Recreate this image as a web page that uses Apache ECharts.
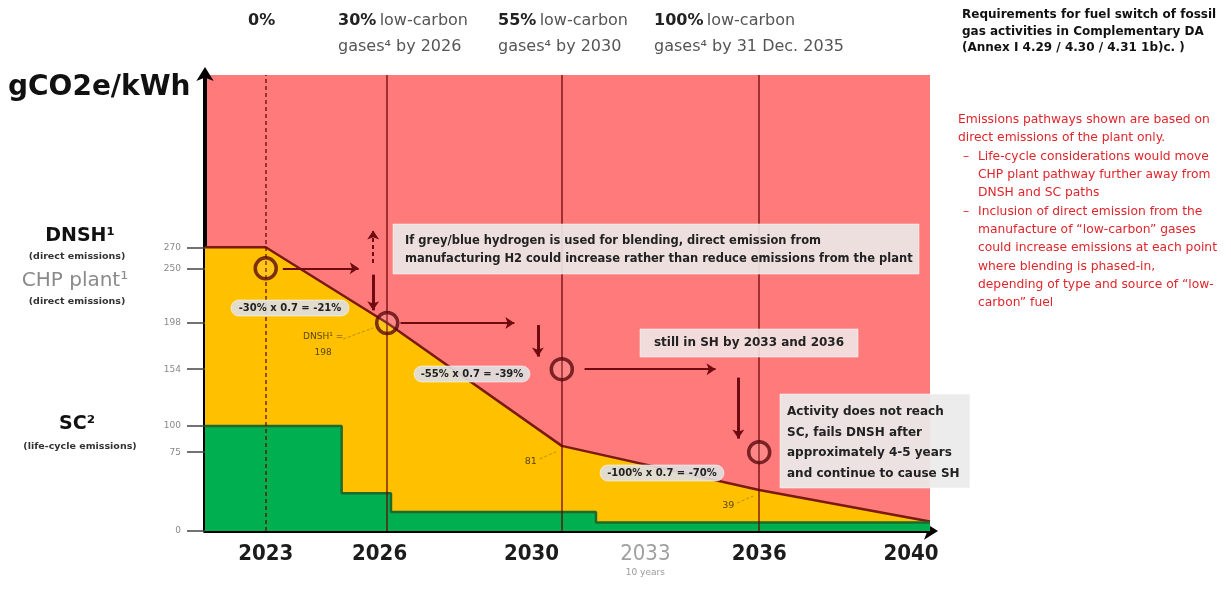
<!DOCTYPE html>
<html><head><meta charset="utf-8">
<script src="https://cdn.jsdelivr.net/npm/echarts@6/dist/echarts.min.js"></script>
<style>html,body{margin:0;padding:0;background:#fff}#c{width:1231px;height:589px}</style>
</head><body><div id="c"></div><script>
// ---------- data ----------
const xTickYears = [2023, 2026, 2030, 2033, 2036, 2040];
const yTickValues = [0, 75, 100, 154, 198, 250, 270];
const dnshYears = [2021.4, 2023, 2026.2, 2030.8, 2036, 2040.5];
const dnshValues = [270, 270, 198, 81, 39, 9];
const scYears = [2021.4, 2025, 2025, 2026.3, 2026.3, 2031.7, 2031.7, 2040.5];
const scValues = [100, 100, 36, 36, 18, 18, 8, 8];
const chpYears = [2023, 2026.2, 2030.8, 2036];
const chpValues = [250, 198, 154, 75];
const milestoneYears = [2023, 2026.2, 2030.8, 2036];
const milestonePct = ['0%', '30%', '55%', '100%'];
const milestoneLine1 = ['', 'low-carbon', 'low-carbon', 'low-carbon'];
const milestoneLine2 = ['', 'gases\u2074 by 2026', 'gases\u2074 by 2030', 'gases\u2074 by 31 Dec. 2035'];
const arrowFrom = [[2023.45, 250], [2025.83, 255], [2025.83, 244], [2026.55, 198], [2030.17, 196], [2031.4, 154], [2035.45, 146]];
const arrowTo   = [[2025.45, 250], [2025.83, 286], [2025.83, 210], [2029.55, 198], [2030.17, 166], [2034.85, 154], [2035.45, 88]];
const arrowDashed = [false, true, false, false, false, false, false];
const arrowVertical = [false, true, true, false, true, false, true];
const dnshPointLabels = {2: ['DNSH\u00b9 =', '198'], 3: ['81'], 4: ['39']};
const reductionLabels = ['-30% x 0.7 = -21%', '-55% x 0.7 = -39%', '-100% x 0.7 = -70%'];
const noteHydrogen = ['If grey/blue hydrogen is used for blending, direct emission from',
  'manufacturing H2 could increase rather than reduce emissions from the plant'];
const noteStill = 'still in SH by 2033 and 2036';
const noteActivity = ['Activity does not reach', 'SC, fails DNSH after', 'approximately 4-5 years', 'and continue to cause SH'];
const headerLines = ['Requirements for fuel switch of fossil', 'gas activities in Complementary DA', '(Annex I 4.29 / 4.30 / 4.31 1b)c. )'];
const redLines = [
  ['', 'Emissions pathways shown are based on'],
  ['', 'direct emissions of the plant only.'],
  ['\u2013', 'Life-cycle considerations would move'],
  [' ', 'CHP plant pathway further away from'],
  [' ', 'DNSH and SC paths'],
  ['\u2013', 'Inclusion of direct emission from the'],
  [' ', 'manufacture of \u201clow-carbon\u201d gases'],
  [' ', 'could increase emissions at each point'],
  [' ', 'where blending is phased-in,'],
  [' ', 'depending of type and source of \u201clow-'],
  [' ', 'carbon\u201d fuel']
];

// ---------- chart ----------
const F = "'DejaVu Sans', sans-serif";
const COND = "'DejaVu Sans Condensed', 'DejaVu Sans', sans-serif";
const RED = '#ff7b7b', YELLOW = '#ffc000', GREEN = '#00b050', LINE = '#7a1a12';
const chart = echarts.init(document.getElementById('c'), null, {renderer: 'canvas'});

chart.setOption({
  animation: false,
  grid: {left: 205, right: 301, top: 75, bottom: 58, show: true, backgroundColor: RED, borderWidth: 0},
  xAxis: {
    type: 'value', min: 2021.4, max: 2040.5,
    splitLine: {show: false},
    axisTick: {show: false},
    axisLine: {show: true, symbol: ['none', 'arrow'], symbolSize: [13, 14], symbolOffset: [0, 8],
      lineStyle: {color: '#000', width: 4}},
    axisLabel: {
      customValues: xTickYears, margin: 10,
      formatter: v => v === 2033 ? '{g|2033}\n{s|10 years}' : '{b|' + v + '}',
      rich: {
        b: {fontFamily: COND, fontWeight: 'bold', fontSize: 22, color: '#1c1c1c', lineHeight: 26},
        g: {fontFamily: COND, fontWeight: 'normal', fontSize: 22, color: '#a0a0a0', lineHeight: 26},
        s: {fontFamily: F, fontSize: 9, color: '#9a9a9a', lineHeight: 12}
      }
    }
  },
  yAxis: {
    type: 'value', min: 0, max: 434,
    splitLine: {show: false},
    axisLine: {show: true, symbol: ['none', 'arrow'], symbolSize: [13, 14], symbolOffset: [0, 8],
      lineStyle: {color: '#000', width: 4}},
    axisTick: {show: true, customValues: yTickValues, length: 18, lineStyle: {color: '#444', width: 1.5}},
    axisLabel: {customValues: yTickValues, margin: 24, color: '#888', fontSize: 9, fontFamily: F}
  },
  series: [
    {
      name: 'DNSH', type: 'line', z: 2, data: dnshYears.map((y, i) => [y, dnshValues[i]]),
      symbol: 'none',
      lineStyle: {color: LINE, width: 2.5},
      areaStyle: {color: YELLOW, opacity: 1}
    },
    {
      name: 'SC', type: 'line', z: 3, data: scYears.map((y, i) => [y, scValues[i]]),
      symbol: 'none',
      lineStyle: {color: '#1d6a2c', width: 2.5},
      areaStyle: {color: GREEN, opacity: 1}
    },
    {
      name: 'milestones', type: 'line', z: 4, data: [[2023, 0]], symbol: 'none',
      lineStyle: {opacity: 0},
      markLine: {
        silent: true, symbol: ['none', 'none'], label: {show: false},
        lineStyle: {color: 'rgba(105,0,0,0.62)', width: 2, type: 'solid'},
        data: milestoneYears.map((y, i) => ({xAxis: y, lineStyle: i === 0 ? {type: [4, 3]} : {}}))
      }
    },
    {
      name: 'arrows', type: 'line', z: 5, data: [[2023, 0]], symbol: 'none',
      lineStyle: {opacity: 0},
      markLine: {
        silent: true, symbol: ['none', 'arrow'], symbolSize: 9, label: {show: false},
        lineStyle: {color: '#6e0a10', width: 2, type: 'solid'},
        data: arrowFrom.map((f, i) => [
          {coord: f, lineStyle: {type: arrowDashed[i] ? [4, 3] : 'solid', width: arrowVertical[i] && !arrowDashed[i] ? 3 : 2}},
          {coord: arrowTo[i]}
        ])
      }
    },
    {
      name: 'CHP plant', type: 'scatter', z: 6,
      data: chpYears.map((y, i) => [y, chpValues[i]]),
      symbol: 'circle', symbolSize: 21,
      itemStyle: {color: 'rgba(255,255,255,0.12)', borderColor: '#5a0a0e', borderWidth: 3.5}
    }
  ]
});

// ---------- annotations ----------
const px = (x, y) => chart.convertToPixel({gridIndex: 0}, [x, y]);
const g = [];
function txt(x, y, text, font, fill, align, extra) {
  g.push(Object.assign({type: 'text', x: x, y: y, z: 100,
    style: {text: text, font: font, fill: fill || '#222', textAlign: align || 'left', textVerticalAlign: 'middle'}}, extra || {}));
}
function box(x, y, w, h, fill, r) {
  g.push({type: 'rect', z: 99, shape: {x: x, y: y, width: w, height: h, r: r || 0},
    style: {fill: fill, stroke: 'rgba(255,255,255,0.5)', lineWidth: 1}});
}
function pill(cx, cy, w, text) {
  box(cx - w / 2, cy - 8, w, 16, 'rgba(222,222,222,0.92)', 8);
  txt(cx, cy, text, 'bold 10px ' + F, '#222', 'center');
}

// y-axis name
txt(8, 88, 'gCO2e/kWh', 'bold 28px ' + F, '#111', 'left');

// top milestone labels
const topX = [248, 338, 498, 654];
milestonePct.forEach((p, i) => {
  g.push({type: 'text', x: topX[i], y: 8, z: 100, style: {
    text: '{b|' + p + '}' + (milestoneLine1[i] ? ' {n|' + milestoneLine1[i] + '}' : '') + (milestoneLine2[i] ? '\n{n|' + milestoneLine2[i] + '}' : ''),
    textAlign: 'left', textVerticalAlign: 'top',
    rich: {
      b: {fontFamily: F, fontWeight: 'bold', fontSize: 16, fill: '#222', lineHeight: 26},
      n: {fontFamily: F, fontWeight: 'normal', fontSize: 16, fill: '#555', lineHeight: 26}
    }}});
});

// left labels
txt(80, 236, 'DNSH\u00b9', 'bold 19px ' + F, '#111', 'center');
txt(77, 257, '(direct emissions)', 'bold 9.5px ' + F, '#333', 'center');
txt(75, 281, 'CHP plant\u00b9', '20px ' + F, '#8a8a8a', 'center');
txt(77, 302, '(direct emissions)', 'bold 9.5px ' + F, '#333', 'center');
const p100 = px(2021.4, 100);
txt(77, p100[1] - 2, 'SC\u00b2', 'bold 19px ' + F, '#111', 'center');
txt(80, p100[1] + 21, '(life-cycle emissions)', 'bold 9.5px ' + F, '#333', 'center');

// DNSH value labels anchored to the DNSH points
Object.keys(dnshPointLabels).forEach(k => {
  const i = +k, p = px(dnshYears[i], dnshValues[i]);
  const lines = dnshPointLabels[k];
  if (lines.length > 1) {
    txt(p[0] - 64, p[1] + 14, lines[0], '9px ' + F, '#5a4600', 'center');
    txt(p[0] - 64, p[1] + 30, lines[1], '9px ' + F, '#5a4600', 'center');
    g.push({type: 'line', z: 98, shape: {x1: p[0] - 44, y1: p[1] + 16, x2: p[0] - 14, y2: p[1] + 5},
      style: {stroke: 'rgba(120,90,0,0.5)', lineWidth: 1, lineDash: [3, 2]}});
  } else {
    txt(p[0] - 31, p[1] + 16, lines[0], '9.5px ' + F, '#5a4600', 'center');
    g.push({type: 'line', z: 98, shape: {x1: p[0] - 22, y1: p[1] + 13, x2: p[0] - 6, y2: p[1] + 6},
      style: {stroke: 'rgba(120,90,0,0.5)', lineWidth: 1, lineDash: [3, 2]}});
  }
});

// hydrogen note
box(393, 224, 526, 50, 'rgba(236,234,234,0.9)');
txt(405, 241, noteHydrogen[0], 'bold 11.5px ' + F, '#222');
txt(405, 259, noteHydrogen[1], 'bold 11.5px ' + F, '#222');

// reduction pills
pill(290, 308, 118, reductionLabels[0]);
pill(472, 374, 116, reductionLabels[1]);
pill(662, 473, 124, reductionLabels[2]);

// still in SH
box(640, 329, 218, 28, 'rgba(240,232,232,0.88)');
txt(749, 343, noteStill, 'bold 12px ' + F, '#222', 'center');

// activity note
box(780, 394, 190, 94, 'rgba(234,234,234,0.92)');
noteActivity.forEach((t, i) => txt(787, 412 + i * 20.5, t, 'bold 12px ' + F, '#222'));

// right header
headerLines.forEach((t, i) => txt(962, 15 + i * 16.5, t, 'bold 12px ' + F, '#111'));
// right red notes
redLines.forEach((l, i) => {
  const y = 120 + i * 18.3;
  if (l[0] === '') txt(958, y, l[1], '12.3px ' + F, '#e0262c');
  else {
    if (l[0].trim()) txt(963, y, l[0], '12.3px ' + F, '#e0262c');
    txt(978, y, l[1], '12.3px ' + F, '#e0262c');
  }
});

chart.setOption({graphic: g});
</script></body></html>
